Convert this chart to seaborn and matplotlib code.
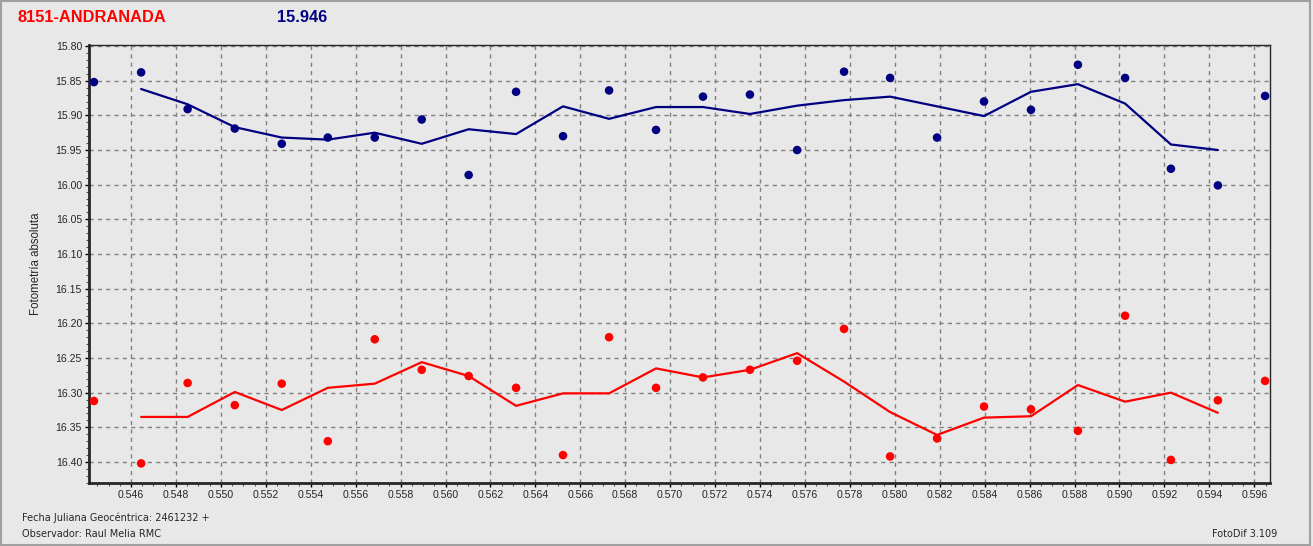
import numpy as np
import pandas as pd
import matplotlib
matplotlib.use("Agg")
import matplotlib.pyplot as plt
import matplotlib.ticker as mticker
from matplotlib.patches import Rectangle
import seaborn as sns

# ----------------------------
# datos
# ----------------------------
jd = [0.54435, 0.54645, 0.54852, 0.55062, 0.55271, 0.55476, 0.55685, 0.55894,
      0.56103, 0.56314, 0.56523, 0.56728, 0.56937, 0.57146, 0.57355, 0.57565,
      0.57774, 0.57979, 0.58188, 0.58397, 0.58606, 0.58815, 0.59025, 0.59229,
      0.59438, 0.59648]

var_pts = [15.852, 15.838, 15.891, 15.919, 15.941, 15.932, 15.932, 15.906,
           15.986, 15.866, 15.930, 15.864, 15.921, 15.873, 15.870, 15.950,
           15.837, 15.846, 15.932, 15.880, 15.892, 15.827, 15.846, 15.977,
           16.001, 15.872]

ref_pts = [16.312, 16.402, 16.286, 16.318, 16.287, 16.370, 16.223, 16.267,
           16.276, 16.293, 16.390, 16.220, 16.293, 16.278, 16.267, 16.254,
           16.208, 16.392, 16.366, 16.320, 16.324, 16.355, 16.189, 16.397,
           16.311, 16.283]

# medias móviles (sin el primer ni el último punto)
var_line = [15.862, 15.884, 15.917, 15.932, 15.935, 15.925, 15.941, 15.920,
            15.927, 15.887, 15.905, 15.888, 15.888, 15.898, 15.886, 15.878,
            15.873, 15.887, 15.901, 15.866, 15.855, 15.883, 15.942, 15.950]

ref_line = [16.335, 16.335, 16.299, 16.325, 16.293, 16.287, 16.256, 16.276,
            16.319, 16.301, 16.301, 16.265, 16.278, 16.267, 16.243, 16.284,
            16.328, 16.361, 16.336, 16.334, 16.289, 16.313, 16.300, 16.329]

BG = "#E8E8E8"
NAVY = "#000080"
RED = "#FF0000"

pts = pd.DataFrame({"jd": jd * 2, "mag": var_pts + ref_pts,
                    "serie": ["var"] * len(jd) + ["ref"] * len(jd)})
lines = pd.DataFrame({"jd": jd[1:-1] * 2, "mag": var_line + ref_line,
                      "serie": ["var"] * len(var_line) + ["ref"] * len(ref_line)})

sns.set_style("ticks")
plt.rcParams["font.family"] = ["Liberation Sans", "DejaVu Sans"]

fig = plt.figure(figsize=(13.13, 5.46), dpi=100, facecolor=BG)
ax = fig.add_axes([89 / 1313, 1 - 483 / 546, (1270 - 89) / 1313, (483 - 45) / 546])
ax.set_facecolor(BG)

pal = {"var": NAVY, "ref": RED}
sns.lineplot(data=lines, x="jd", y="mag", hue="serie", palette=pal,
             estimator=None, sort=True, linewidth=1.6, legend=False, ax=ax)
sns.scatterplot(data=pts, x="jd", y="mag", hue="serie", palette=pal,
                s=38, edgecolor="none", legend=False, ax=ax, zorder=3)

ax.set_xlim(0.54413, 0.59670)
ax.set_ylim(16.4303, 15.7985)

ax.xaxis.set_major_locator(mticker.MultipleLocator(0.002))
ax.xaxis.set_minor_locator(mticker.MultipleLocator(0.0005))
ax.xaxis.set_major_formatter(mticker.FormatStrFormatter("%.3f"))
ax.yaxis.set_major_locator(mticker.MultipleLocator(0.05))
ax.yaxis.set_minor_locator(mticker.MultipleLocator(0.01))
ax.yaxis.set_major_formatter(mticker.FormatStrFormatter("%.2f"))

ax.tick_params(which="major", length=3, width=1, labelsize=7.6, pad=2, color="black")
ax.tick_params(which="minor", length=2, width=0.8, color="#555555")
ax.grid(True, which="major", linestyle=(0, (3, 3)), color="#808080", linewidth=1)

for side in ["left", "bottom"]:
    ax.spines[side].set_linewidth(2)
for side in ["top", "right"]:
    ax.spines[side].set_linewidth(1)
    ax.spines[side].set_visible(True)

ax.set_xlabel("")
ax.set_ylabel("Fotometría absoluta", fontsize=8.3, labelpad=10)

fig.text(18 / 1313, 1 - 18 / 546, "8151-ANDRANADA", color=RED, fontsize=11.8,
         fontweight="bold", va="center", ha="left")
fig.text(277 / 1313, 1 - 18 / 546, "15.946", color=NAVY, fontsize=11.8,
         fontweight="bold", va="center", ha="left")

fig.text(22 / 1313, 1 - 518 / 546, "Fecha Juliana Geocéntrica: 2461232 +",
         fontsize=7, va="center", ha="left", family=["DejaVu Sans"])
fig.text(22 / 1313, 1 - 534 / 546, "Observador: Raul Melia RMC",
         fontsize=7, va="center", ha="left", family=["DejaVu Sans"])
fig.text(1277 / 1313, 1 - 534 / 546, "FotoDif 3.109",
         fontsize=7, va="center", ha="right", family=["DejaVu Sans"])

# marco exterior
fig.patches.append(Rectangle((0.001, 0.002), 0.997, 0.996, transform=fig.transFigure,
                             fill=False, edgecolor="#A0A0A0", linewidth=1.5))

fig.savefig("out.png", dpi=100, facecolor=BG)
